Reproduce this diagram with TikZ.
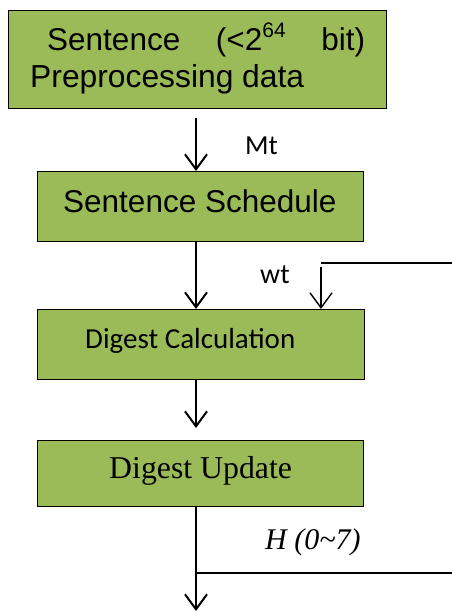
\documentclass[tikz,border=0pt]{standalone}
\usepackage{fontspec}
\setmainfont{Liberation Sans}
\newfontfamily\calibrifont{Carlito}
\newfontfamily\timesfont{Liberation Serif}
\usetikzlibrary{arrows.meta}
\definecolor{boxgreen}{HTML}{9BBB59}
\tikzset{
  x=1pt, y=-1pt,
  stagebox/.style={draw=black, line width=1.3pt, fill=boxgreen, rectangle, inner sep=0pt, anchor=north west},
  txt/.style={inner sep=0pt, anchor=base west},
  flow/.style={line width=2pt, -{Straight Barb[length=15pt,width=22pt]}},
  thinflow/.style={line width=1.4pt, -{Straight Barb[length=15pt,width=22pt]}},
  feed/.style={line width=2pt},
}
\begin{document}
\begin{tikzpicture}
\useasboundingbox (0,0) rectangle (452,613);

% stages
\node[stagebox, minimum width=378pt, minimum height=98pt] (pre) at (8,10) {};
\node[stagebox, minimum width=326pt, minimum height=70pt] (sched) at (37,171) {};
\node[stagebox, minimum width=327pt, minimum height=70pt] (calc) at (37,309) {};
\node[stagebox, minimum width=326pt, minimum height=66pt] (upd) at (37,440) {};

% stage texts
\node[txt] (preA) at (47,50) {\fontsize{31.5}{38}\selectfont\hbox to 318pt{Sentence\hfill(<2\raisebox{0.41em}{\fontsize{21}{21}\selectfont 64}\hfill bit)}};
\node[txt] (preB) at (30,87) {\fontsize{31.8}{38}\selectfont Preprocessing data};
\node[txt] (schedT) at (63,212) {\fontsize{31.5}{38}\selectfont Sentence Schedule};
\node[txt] (calcT) at (85,348) {\fontsize{29}{35}\selectfont\calibrifont Digest Calculation};
\node[txt] (updT) at (109,478) {\fontsize{31.8}{38}\selectfont\timesfont Digest Update};

% labels
\node[txt] (mt) at (245,154) {\fontsize{27.5}{33}\selectfont\calibrifont Mt};
\node[txt] (wt) at (260,283) {\fontsize{28}{33}\selectfont\calibrifont wt};
\node[txt] (h) at (265,549) {\fontsize{30}{36}\selectfont\timesfont\itshape H (0\char`\~7)};

% free ends of the flow lines
\coordinate (top) at (196,118);
\coordinate (wtR) at (452,263);
\coordinate (wtC) at (321,263);
\coordinate (wtS) at (321,267);
\coordinate (hR) at (452,573);
\coordinate (hC) at (196,573);
\coordinate (out) at (196,611);
\coordinate (gap) at (196,428);

% main flow
\draw[flow] (top) -- (top |- sched.north);
\draw[flow] (sched.south -| top) -- (calc.north -| top);
\draw[flow] (calc.south -| top) -- (gap);
\draw[flow] (upd.south -| top) -- (out);

% feedback inputs
\draw[feed] (wtC) -- (wtR);
\draw[thinflow] (wtS) -- (wtS |- calc.north);
\draw[feed] (hC) -- (hR);
\end{tikzpicture}
\end{document}
